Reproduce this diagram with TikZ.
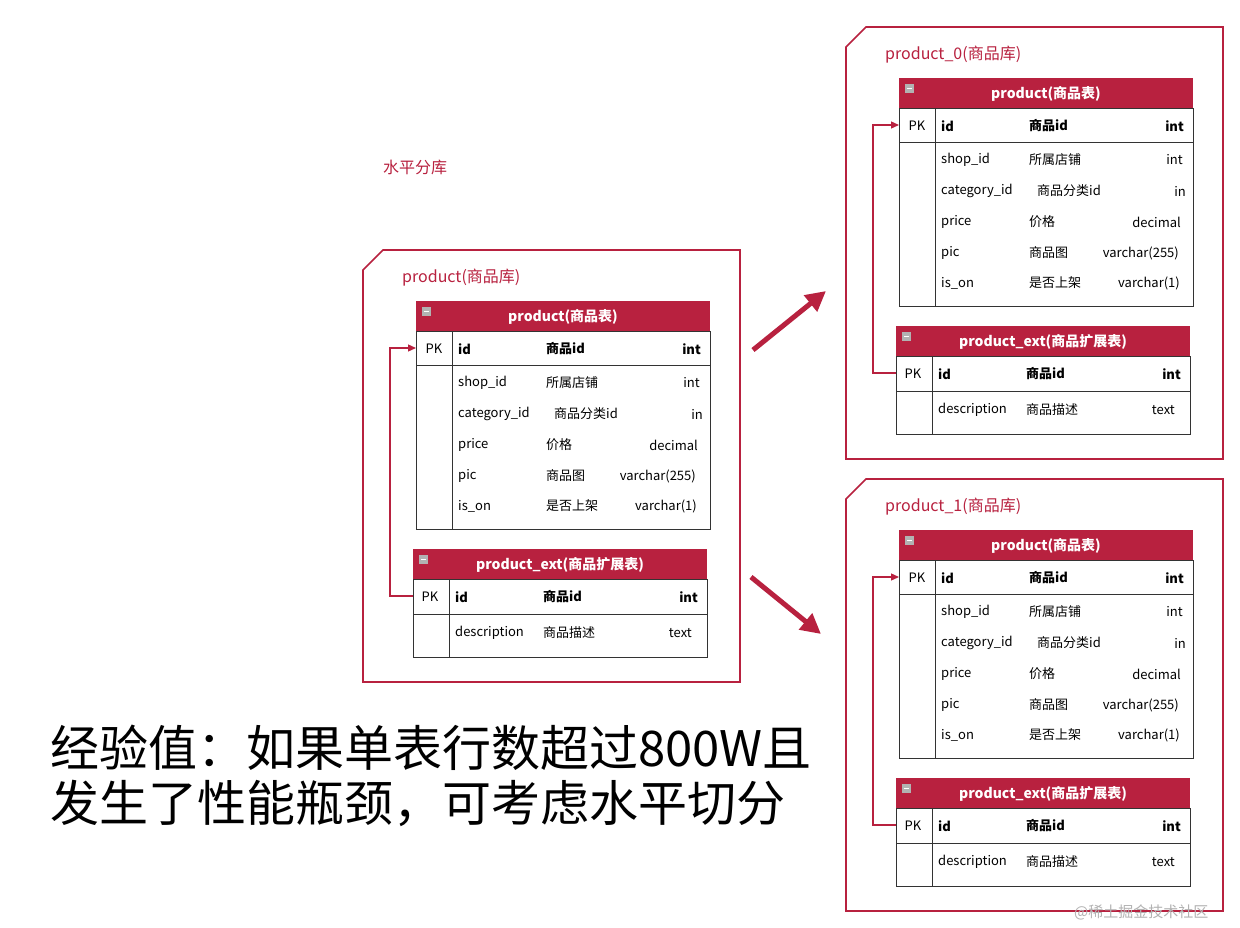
\documentclass[tikz,border=0pt]{standalone}
\usepackage{fontspec}
\setmainfont{Noto Sans CJK SC}
\usetikzlibrary{arrows.meta}
\definecolor{crim}{HTML}{B8213F}
\tikzset{
  frame/.style={draw=crim,line width=1.6pt},
  cell/.style={draw=black!80,line width=0.9pt},
  t/.style={inner sep=0pt,font=\fontsize{13}{13}\selectfont},
  tb/.style={inner sep=0pt,font=\fontsize{13}{13}\selectfont\bfseries},
  hd/.style={inner sep=0pt,text=white,font=\fontsize{14}{14}\selectfont\bfseries},
  lbl/.style={inner sep=0pt,text=crim,font=\fontsize{16}{16}\selectfont},
  link/.style={draw=crim,line width=1.3pt,-{Triangle[length=8pt,width=7pt]}},
  big/.style={draw=crim,line width=5pt,-{Triangle[length=20pt,width=20pt]}},
}
\newcommand{\mkicon}[2]{\fill[gray!60] (#1-4,#2-4) rectangle (#1+5,#2+5);\draw[white,line width=1pt] (#1-2,#2+0.5) -- (#1+3,#2+0.5);}
\newcommand{\dbgroup}[2]{%
  \draw[frame] (383,250) -- (740,250) -- (740,682) -- (363,682) -- (363,270) -- cycle;
  \node[lbl,anchor=west] (#1lbl) at (402,278) {#2};
  % product table
  \fill[crim] (416,301) rectangle (710,331);
  \draw[cell] (416,331) rectangle (710,529);
  \draw[cell] (416,365) -- (710,365);
  \draw[cell] (452,331) -- (452,529);
  \mkicon{426}{311}
  \node[hd] (#1h1) at (563,317) {product(商品表)};
  \node[t] (#1pk1) at (434,349) {PK};
  \node[tb,anchor=west] at (458,349) {id};
  \node[tb,anchor=west] at (546,349) {商品id};
  \node[tb,anchor=east] at (701,349) {int};
  \node[t,anchor=west] at (458,383) {shop\_id};
  \node[t,anchor=west] at (546,383) {所属店铺};
  \node[t,anchor=east] at (700,383) {int};
  \node[t,anchor=west] at (458,414) {category\_id};
  \node[t,anchor=west] at (554,414) {商品分类id};
  \node[t,anchor=east] at (703,414) {in};
  \node[t,anchor=west] at (458,445) {price};
  \node[t,anchor=west] at (546,445) {价格};
  \node[t,anchor=east] at (698,445) {decimal};
  \node[t,anchor=west] at (458,476) {pic};
  \node[t,anchor=west] at (546,476) {商品图};
  \node[t,anchor=east] at (696,476) {varchar(255)};
  \node[t,anchor=west] at (458,506) {is\_on};
  \node[t,anchor=west] at (546,506) {是否上架};
  \node[t,anchor=east] at (697,506) {varchar(1)};
  % ext table
  \fill[crim] (413,549) rectangle (707,579);
  \draw[cell] (413,579) rectangle (707,657);
  \draw[cell] (413,614) -- (707,614);
  \draw[cell] (449,579) -- (449,657);
  \mkicon{423}{559}
  \node[hd] (#1h2) at (560,565) {product\_ext(商品扩展表)};
  \node[t] (#1pk2) at (430,597) {PK};
  \node[tb,anchor=west] at (455,597) {id};
  \node[tb,anchor=west] at (543,597) {商品id};
  \node[tb,anchor=east] at (698,597) {int};
  \node[t,anchor=west] at (455,633) {description};
  \node[t,anchor=west] at (543,633) {商品描述};
  \node[t,anchor=east] at (692,633) {text};
  \coordinate (#1a) at (413,596);
  \coordinate (#1b) at (416,348);
  \draw[link] (#1a) -- ++(-23,0) |- (#1b);
}
\begin{document}
\begin{tikzpicture}[x=1pt,y=-1pt]
\useasboundingbox[fill=white] (0,0) rectangle (1240,928);
\node[lbl,anchor=west] (title) at (383,167) {水平分库};
\begin{scope}\dbgroup{L}{product(商品库)}\end{scope}
\begin{scope}[shift={(483,-223)}]\dbgroup{A}{product\_0(商品库)}\end{scope}
\begin{scope}[shift={(483,229)}]\dbgroup{B}{product\_1(商品库)}\end{scope}
\coordinate (a1s) at (753,350); \coordinate (a1e) at (826,291);
\coordinate (a2s) at (751,577); \coordinate (a2e) at (821,634);
\draw[big] (a1s) -- (a1e);
\draw[big] (a2s) -- (a2e);
\node[inner sep=0pt,anchor=west,font=\fontsize{49}{49}\selectfont] (note1) at (50,748) {经验值：如果单表行数超过800W且};
\node[inner sep=0pt,anchor=west,font=\fontsize{49}{49}\selectfont] (note2) at (50,803) {发生了性能瓶颈，可考虑水平切分};
\node[inner sep=0pt,anchor=west,text=gray!60,font=\fontsize{15}{15}\selectfont] (wm) at (1074,912) {@稀土掘金技术社区};
\end{tikzpicture}
\end{document}
